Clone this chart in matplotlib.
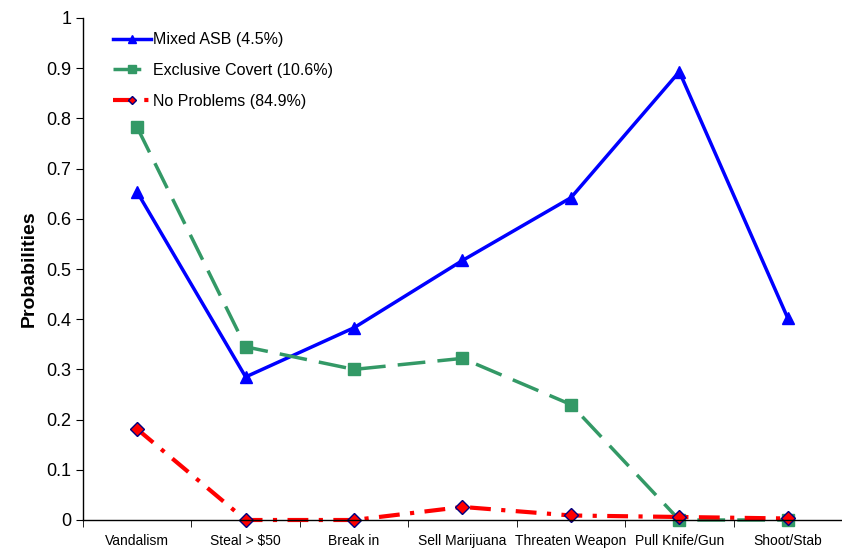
import matplotlib
matplotlib.use("Agg")
import matplotlib.pyplot as plt
import numpy as np

plt.rcParams["font.family"] = ["Liberation Sans", "DejaVu Sans"]

categories = ["Vandalism", "Steal > $50", "Break in", "Sell Marijuana",
              "Threaten Weapon", "Pull Knife/Gun", "Shoot/Stab"]
mixed_asb = [0.653, 0.285, 0.383, 0.517, 0.642, 0.893, 0.402]
excl_covert = [0.782, 0.345, 0.300, 0.322, 0.230, 0.0, 0.0]
no_problems = [0.181, 0.0, 0.0, 0.026, 0.009, 0.006, 0.003]
labels = ["Mixed ASB (4.5%)", "Exclusive Covert (10.6%)", "No Problems (84.9%)"]

fig = plt.figure(figsize=(8.42, 5.49), dpi=100)
ax = fig.add_axes([83 / 842, 29 / 549, 759 / 842, 502 / 549])

x = np.arange(len(categories))
ax.plot(x, mixed_asb, color="#0000ff", lw=2.5, marker="^", ms=8,
        label=labels[0], clip_on=False)
ax.plot(x, excl_covert, color="#339966", lw=2.5, ls=(0, (8, 3.5)), marker="s",
        ms=8, label=labels[1], clip_on=False)
ax.plot(x, no_problems, color="#ff0000", lw=3, ls=(0, (5, 2.5, 1, 2.5)),
        marker="D", ms=7, mfc="#ff0000", mec="#000080", mew=1,
        label=labels[2], clip_on=False)

ax.set_xlim(-0.5, len(categories) - 0.5)
ax.set_ylim(0, 1)
ax.set_yticks(np.arange(0, 1.01, 0.1))
ax.set_yticklabels(["0", "0.1", "0.2", "0.3", "0.4", "0.5", "0.6",
                    "0.7", "0.8", "0.9", "1"], fontsize=13)
ax.set_xticks(x)
ax.set_xticklabels(categories, fontsize=10)
ax.tick_params(axis="x", length=0, pad=10)
ax.set_xticks(np.arange(-0.5, len(categories) - 0.4, 1), minor=True)
ax.tick_params(axis="x", which="minor", length=5, direction="out")
ax.tick_params(axis="y", length=5, direction="out")
ax.set_ylabel("Probabilities", fontsize=14, fontweight="bold", labelpad=6)

for s in ("top", "right"):
    ax.spines[s].set_visible(False)
ax.spines["left"].set_linewidth(1)
ax.spines["bottom"].set_linewidth(1)

ax.legend(loc="upper left", frameon=False, fontsize=11.5, handlelength=2.4,
          handletextpad=0.15, labelspacing=0.98, markerscale=0.65,
          bbox_to_anchor=(0.02, 1.0))

fig.savefig("out.png", dpi=100)
